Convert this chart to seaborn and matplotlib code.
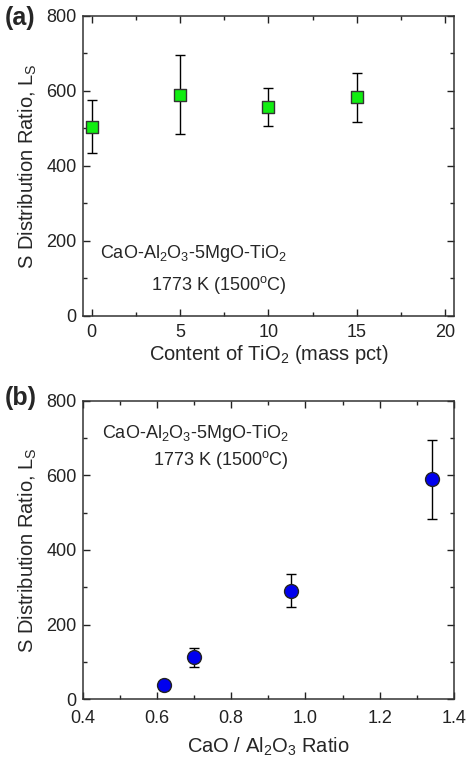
import matplotlib
matplotlib.use("Agg")
import matplotlib.pyplot as plt
import seaborn as sns
import pandas as pd
from matplotlib.ticker import MultipleLocator

# Panel (a) data
tio2_content = [0, 5, 10, 15]
ls_a = [505, 590, 557, 583]
err_a = [70, 105, 51, 66]

# Panel (b) data
cao_al2o3 = [0.62, 0.70, 0.96, 1.34]
ls_b = [37, 112, 291, 589]
err_b = [12, 25, 44, 105]

sns.set_theme(style="ticks")
plt.rcParams['font.family'] = ['Liberation Sans', 'DejaVu Sans']
plt.rcParams['mathtext.fontset'] = 'custom'
plt.rcParams['mathtext.rm'] = 'Liberation Sans'
plt.rcParams['mathtext.it'] = 'Liberation Sans:italic'
plt.rcParams['mathtext.bf'] = 'Liberation Sans:bold'

fig = plt.figure(figsize=(4.68, 7.61), dpi=100)
ax1 = fig.add_axes([0.1767, 0.5848, 0.7934, 0.3942])
ax2 = fig.add_axes([0.1767, 0.0811, 0.7934, 0.3924])

df_a = pd.DataFrame({"x": tio2_content, "y": ls_a})
df_b = pd.DataFrame({"x": cao_al2o3, "y": ls_b})

ax1.errorbar(tio2_content, ls_a, yerr=err_a, fmt='none', ecolor='black',
             elinewidth=1.0, capsize=3.3, capthick=1.0, zorder=2)
sns.scatterplot(data=df_a, x="x", y="y", ax=ax1, marker='s', s=80,
                color='#11ee11', edgecolor='#333333', linewidth=1.0, zorder=3)

ax2.errorbar(cao_al2o3, ls_b, yerr=err_b, fmt='none', ecolor='black',
             elinewidth=1.0, capsize=3.3, capthick=1.0, zorder=2)
sns.scatterplot(data=df_b, x="x", y="y", ax=ax2, marker='o', s=100,
                color='#0000ee', edgecolor='#222222', linewidth=1.0, zorder=3)

ax1.set_xlim(-0.5, 20.5)
ax1.set_ylim(0, 800)
ax1.xaxis.set_major_locator(MultipleLocator(5))
ax1.xaxis.set_minor_locator(MultipleLocator(2.5))
ax2.set_xlim(0.4, 1.4)
ax2.set_ylim(0, 800)
ax2.xaxis.set_major_locator(MultipleLocator(0.2))
ax2.xaxis.set_minor_locator(MultipleLocator(0.1))
ax2.xaxis.set_major_formatter(matplotlib.ticker.FormatStrFormatter('%.1f'))

for ax in (ax1, ax2):
    ax.yaxis.set_major_locator(MultipleLocator(200))
    ax.yaxis.set_minor_locator(MultipleLocator(100))
    ax.tick_params(which='both', direction='in', top=True, right=True,
                   labelsize=13, colors='#222222', width=1.0)
    ax.tick_params(which='major', length=5)
    ax.tick_params(axis='y', which='major', pad=4.5)
    ax.tick_params(which='minor', length=3)
    for sp in ax.spines.values():
        sp.set_visible(True)
        sp.set_linewidth(1.1)
        sp.set_color('#333333')
    ax.set_ylabel("S Distribution Ratio, L$_\\mathregular{S}$", fontsize=14.5, labelpad=5)

ax1.tick_params(axis='x', which='major', pad=6)
ax2.tick_params(axis='x', which='major', pad=8)

ax1.set_xlabel("Content of TiO$_\\mathregular{2}$ (mass pct)", fontsize=14.5, labelpad=1)
ax2.set_xlabel("CaO / Al$_\\mathregular{2}$O$_\\mathregular{3}$ Ratio", fontsize=14.5, labelpad=6)

label1 = "CaO-Al$_\\mathregular{2}$O$_\\mathregular{3}$-5MgO-TiO$_\\mathregular{2}$"
label2 = "1773 K (1500$^\\mathregular{o}$C)"
ax1.text(0.047, 0.207, label1, transform=ax1.transAxes, fontsize=13, va='center', ha='left')
ax1.text(0.185, 0.103, label2, transform=ax1.transAxes, fontsize=13, va='center', ha='left')
ax2.text(0.051, 0.89, label1, transform=ax2.transAxes, fontsize=13, va='center', ha='left')
ax2.text(0.19, 0.80, label2, transform=ax2.transAxes, fontsize=13, va='center', ha='left')

fig.text(0.01, 0.977, "(a)", fontsize=18, fontweight='bold', va='center', ha='left')
fig.text(0.01, 0.477, "(b)", fontsize=18, fontweight='bold', va='center', ha='left')

fig.savefig("out.png", dpi=100)
